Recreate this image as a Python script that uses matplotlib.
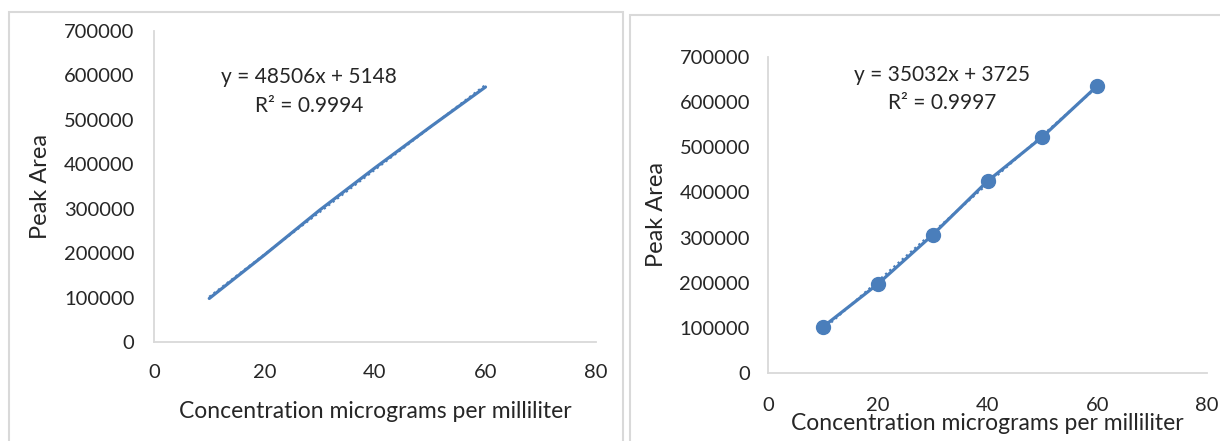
import numpy as np
import matplotlib.pyplot as plt
from matplotlib.patches import Rectangle

plt.rcParams['font.family'] = ['Lato', 'DejaVu Sans']

# calibration data: concentration (ug/mL) vs peak area
conc = [10, 20, 30, 40, 50, 60]
area_a = [98000, 196000, 297000, 392000, 484000, 574000]
area_b = [102000, 197000, 306000, 425000, 523000, 636000]

eq_a = ["y = 48506x + 5148", "R\u00b2 = 0.9994"]
eq_b = ["y = 35032x + 3725", "R\u00b2 = 0.9997"]

xlab = "Concentration micrograms per milliliter"
ylab = "Peak Area"

blue = "#4a7ebb"
grid_gray = "#d9d9d9"
txt = "#262626"

fig = plt.figure(figsize=(12.2, 4.41), dpi=100)

# chart area frames (right one runs off the canvas)
fig.patches.append(Rectangle((9 / 1220, -0.05), 614 / 1220, 1.05 - 12 / 441,
                             transform=fig.transFigure, fill=False,
                             edgecolor=grid_gray, lw=1.5))
fig.patches.append(Rectangle((630 / 1220, -0.05), 620 / 1220, 1.05 - 15 / 441,
                             transform=fig.transFigure, fill=False,
                             edgecolor=grid_gray, lw=1.5))

ax1 = fig.add_axes([154 / 1220, 1 - 342 / 441, 442 / 1220, 311 / 441])
ax2 = fig.add_axes([768 / 1220, 1 - 373 / 441, 439 / 1220, 316 / 441])


def style(ax, xpad, ypad, xl_y, yl_x, yl_y):
    ax.set_xlim(0, 80)
    ax.set_ylim(0, 700000)
    ax.set_xticks([0, 20, 40, 60, 80])
    ax.set_yticks(np.arange(0, 700001, 100000))
    ax.yaxis.set_major_formatter(plt.FuncFormatter(lambda v, p: f"{int(v)}"))
    for s in ["top", "right"]:
        ax.spines[s].set_visible(False)
    for s in ["left", "bottom"]:
        ax.spines[s].set_color(grid_gray)
        ax.spines[s].set_linewidth(1.3)
    ax.tick_params(axis="x", length=0, pad=xpad, labelsize=14.5, colors=txt)
    ax.tick_params(axis="y", length=0, pad=ypad, labelsize=14.5, colors=txt)
    ax.set_xlabel(xlab, fontsize=16.5, color=txt)
    ax.set_ylabel(ylab, fontsize=17, color=txt)
    ax.xaxis.set_label_coords(0.5, xl_y)
    ax.yaxis.set_label_coords(yl_x, yl_y)
    ax.yaxis.label.set_va("center")


style(ax1, 16, 14, -0.19, -0.256, 0.5)
style(ax2, 17, 13, -0.125, -0.253, 0.5)

# left: line only, right: line with markers
ax1.plot(conc, area_a, color=blue, lw=2.3, solid_capstyle="round")
ax2.plot(conc, area_b, color=blue, lw=2.3, marker="o", markersize=10)

# dotted linear trendlines
for ax, y in [(ax1, area_a), (ax2, area_b)]:
    m, b = np.polyfit(conc, y, 1)
    xs = np.array([conc[0], conc[-1]])
    ax.plot(xs, m * xs + b, color=blue, lw=1.6, ls=(0, (1, 1.5)), zorder=1)

for ax, eq, cx, y1, y2 in [(ax1, eq_a, 0.351, 0.852, 0.759),
                           (ax2, eq_b, 0.396, 0.943, 0.854)]:
    ax.text(cx, y1, eq[0], transform=ax.transAxes, ha="center",
            va="center", fontsize=15, color=txt)
    ax.text(cx, y2, eq[1], transform=ax.transAxes, ha="center",
            va="center", fontsize=15, color=txt)

fig.savefig("out.png", dpi=100)
